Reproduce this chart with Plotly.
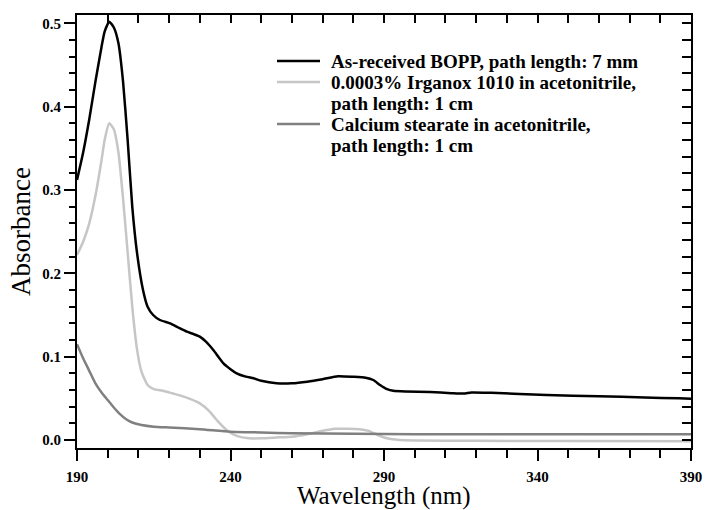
import plotly.graph_objects as go

# Wavelength grids (nm) and absorbance values for each spectrum
bopp_wl = [190, 192, 194, 196, 198, 199, 200.5, 202, 203.5, 205, 206.5, 208, 209.5,
           211.5, 213, 214.8, 217, 220.3, 223, 225.8, 228, 230, 232, 234.4, 237.7,
           240, 242, 245, 247.5, 250, 255, 260, 265, 270, 275, 280, 284, 286.5,
           288.7, 291, 293, 297, 305, 312, 316, 318.5, 325, 343, 360, 375, 386, 390]
bopp_abs = [0.312, 0.345, 0.385, 0.43, 0.472, 0.490, 0.502, 0.495, 0.476, 0.43, 0.36,
            0.28, 0.226, 0.180, 0.160, 0.150, 0.144, 0.140, 0.135, 0.130, 0.127, 0.124,
            0.118, 0.108, 0.092, 0.085, 0.080, 0.076, 0.074, 0.071, 0.068, 0.068, 0.070,
            0.073, 0.0765, 0.0758, 0.0748, 0.072, 0.066, 0.061, 0.059, 0.0582, 0.0575,
            0.0562, 0.0557, 0.0571, 0.0566, 0.054, 0.0525, 0.051, 0.050, 0.0495]

irganox_wl = [190, 192, 194, 196, 198, 199, 200.5, 202, 203.5, 205, 206.5, 208, 209.5,
              211, 213, 215, 218, 221, 224, 227, 230, 233, 236, 239, 242, 246, 250, 255,
              260, 265, 270, 274, 278, 282, 285, 288, 291, 295, 300, 320, 350, 390]
irganox_abs = [0.222, 0.238, 0.260, 0.293, 0.336, 0.360, 0.380, 0.373, 0.345, 0.29,
               0.225, 0.160, 0.110, 0.082, 0.066, 0.061, 0.059, 0.056, 0.053, 0.049,
               0.044, 0.035, 0.022, 0.011, 0.005, 0.002, 0.002, 0.003, 0.004, 0.007,
               0.011, 0.0135, 0.0135, 0.013, 0.011, 0.006, 0.002, 0.000, -0.0005,
               -0.001, -0.0012, -0.0015]

castearate_wl = [190, 192, 194, 196, 198, 200, 202, 204, 206, 208, 211, 215, 220, 230,
                 240, 250, 260, 280, 300, 340, 390]
castearate_abs = [0.115, 0.098, 0.083, 0.068, 0.057, 0.048, 0.039, 0.031, 0.025, 0.021,
                  0.018, 0.016, 0.015, 0.013, 0.010, 0.009, 0.008, 0.0075, 0.007, 0.007,
                  0.0068]

# Legend entries: each is a list of text lines
series_names = [
    ["As-received BOPP, path length: 7 mm"],
    ["0.0003% Irganox 1010 in acetonitrile,", "path length: 1 cm"],
    ["Calcium stearate in acetonitrile,", "path length: 1 cm"],
]
series_colors = ["#000000", "#c6c6c6", "#808080"]

x_ticks = [190, 240, 290, 340, 390]
y_ticks = [0.0, 0.1, 0.2, 0.3, 0.4, 0.5]
x_title = "Wavelength (nm)"
y_title = "Absorbance"

SERIF = "Liberation Serif, Times New Roman, serif"

fig = go.Figure()
for wl, ab, name, col in zip(
    [bopp_wl, irganox_wl, castearate_wl],
    [bopp_abs, irganox_abs, castearate_abs],
    series_names, series_colors,
):
    fig.add_trace(go.Scatter(
        x=wl, y=ab, mode="lines", name=" ".join(name), showlegend=False,
        line=dict(color=col, width=2.5, shape="spline", smoothing=0.5),
    ))

# Empty trace so the mirrored frame axes (top / right, inward ticks) get drawn
fig.add_trace(go.Scatter(x=[None], y=[None], xaxis="x2", yaxis="y2",
                         showlegend=False, hoverinfo="skip"))

x_range = [190, 390]
y_range = [-0.0096, 0.510]

axis_common = dict(showgrid=False, zeroline=False, showline=True, automargin=False,
                   linecolor="black", linewidth=2, tickcolor="black", tickwidth=2)

# Legend box drawn in plot-domain coordinates
L, T, W, H = 77, 15, 614, 433  # plot area in pixels
def px_x(px):
    return (px - L) / W
def px_y(py):
    return 1 - (py - T) / H

line_h = 21
row = 0
for lines, col in zip(series_names, series_colors):
    y0 = 61 + row * line_h
    fig.add_shape(type="line", xref="x domain", yref="y domain",
                  x0=px_x(277), x1=px_x(320), y0=px_y(y0), y1=px_y(y0),
                  line=dict(color=col, width=2.5))
    for txt in lines:
        fig.add_annotation(xref="x domain", yref="y domain",
                           x=px_x(329), y=px_y(61 + row * line_h),
                           xanchor="left", yanchor="middle", showarrow=False,
                           text=f"<b>{txt}</b>",
                           font=dict(size=19, family=SERIF, color="black"))
        row += 1

# X-axis title placed just under the tick labels
fig.add_annotation(xref="x domain", yref="y domain", x=0.5, y=px_y(496),
                   xanchor="center", yanchor="middle", showarrow=False,
                   text=x_title, font=dict(size=25, family=SERIF, color="black"))

fig.update_layout(
    width=705, height=510,
    margin=dict(l=77, r=14, t=15, b=62),
    paper_bgcolor="white", plot_bgcolor="white",
    font=dict(family=SERIF, color="black"),
    showlegend=False,
    xaxis=dict(
        range=x_range, tickmode="array", tickvals=x_ticks,
        ticktext=[f"<b>{v}</b>" for v in x_ticks],
        ticks="outside", ticklen=11, ticklabelstandoff=3,
        minor=dict(dtick=10, ticks="outside", ticklen=8, tickwidth=2,
                   tickcolor="black", showgrid=False),
        tickfont=dict(size=15, family=SERIF),
        **axis_common,
    ),
    yaxis=dict(
        range=y_range, tickmode="array", tickvals=y_ticks,
        ticktext=[f"<b>{v:.1f}</b>" for v in y_ticks],
        ticks="outside", ticklen=11,
        minor=dict(dtick=0.02, tick0=0, ticks="outside", ticklen=6, tickwidth=2,
                   tickcolor="black", showgrid=False),
        tickfont=dict(size=15, family=SERIF),
        title=dict(text=y_title, font=dict(size=27, family=SERIF), standoff=4),
        **axis_common,
    ),
    xaxis2=dict(
        range=x_range, overlaying="x", side="top", anchor="y2",
        tickmode="linear", tick0=190, dtick=10, ticks="inside", ticklen=8,
        showticklabels=False, **axis_common,
    ),
    yaxis2=dict(
        range=y_range, overlaying="y", side="right", anchor="x2",
        tickmode="linear", tick0=0, dtick=0.02, ticks="inside", ticklen=9,
        showticklabels=False, **axis_common,
    ),
)

fig.write_html("out.html")
